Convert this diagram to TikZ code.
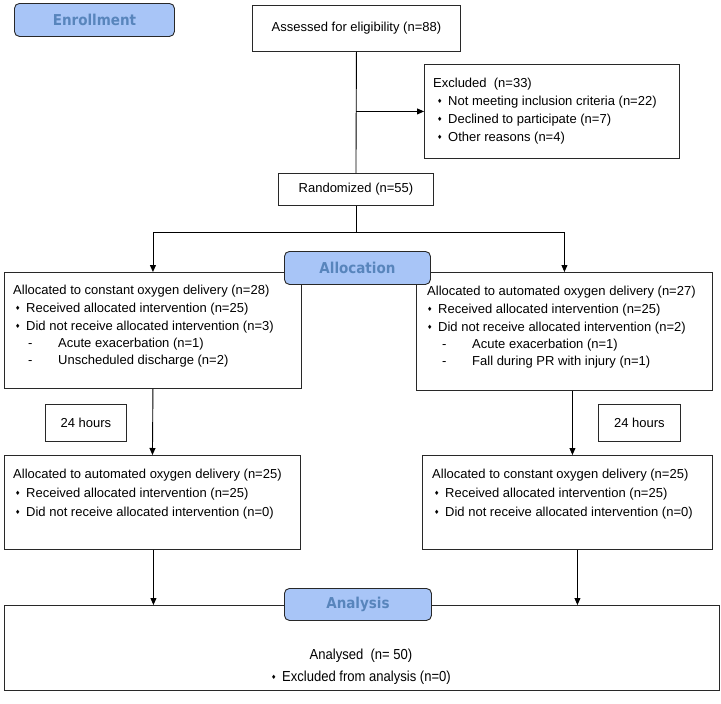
\documentclass[tikz,border=0pt]{standalone}
\usepackage{fontspec}
\setmainfont{Liberation Sans}
\newfontfamily\labfont{DejaVu Sans Condensed}
\newfontfamily\symfont{DejaVu Sans}
\newfontfamily\narrowfont[FakeStretch=0.9]{Liberation Sans}
\usetikzlibrary{arrows.meta}
\definecolor{labfill}{RGB}{168,197,247}
\definecolor{labtext}{RGB}{88,133,188}
\definecolor{edge}{RGB}{40,40,40}
\newcommand\bul{\makebox[11pt][l]{\raisebox{2pt}{\symfont\fontsize{6}{6}\selectfont ♦}}}
\newcommand\dashitem[1]{\hspace{15pt}\makebox[30pt][l]{-}#1}
\tikzset{
  bx/.style={draw=edge, line width=0.9pt, inner sep=0pt, anchor=north west, font=\fontsize{13}{16}\selectfont},
  txt/.style={inner sep=0pt, anchor=north west, align=left, font=\fontsize{13}{19}\selectfont},
  lab/.style={draw=edge, line width=0.9pt, fill=labfill, rounded corners=5pt, inner sep=0pt, anchor=north west,
    text=labtext, font=\labfont\bfseries\fontsize{15}{15}\selectfont},
  arr/.style={draw=black, line width=0.9pt, -{Triangle[length=7pt,width=6pt]}},
  ln/.style={draw=black, line width=0.9pt}
}
\begin{document}
\begin{tikzpicture}[x=1pt,y=-1pt]
\useasboundingbox (0,0) rectangle (721,704);
% boxes
\node[bx, minimum width=208, minimum height=46] (assess) at (252,5) {Assessed for eligibility (n=88)};
\node[bx, minimum width=255, minimum height=94] (excl) at (424,64) {};
\node[txt] (exclT) at (433,78) {Excluded\ \ (n=33)\\[-1pt]
\hspace{4pt}\bul Not meeting inclusion criteria (n=22)\\[-1pt]
\hspace{4pt}\bul Declined to participate (n=7)\\[-1pt]
\hspace{4pt}\bul Other reasons (n=4)};
\node[bx, minimum width=155, minimum height=32] (rand) at (278,173) {Randomized (n=55)};
\node[bx, minimum width=297, minimum height=116] (allocL) at (4,272) {};
\node[txt] (allocLT) at (13,285) {Allocated to constant oxygen delivery (n=28)\\[-1pt]
\hspace{2pt}\bul Received allocated intervention (n=25)\\[-1pt]
\hspace{2pt}\bul Did not receive allocated intervention (n=3)\\[-2pt]
\dashitem{Acute exacerbation (n=1)}\\[-2pt]
\dashitem{Unscheduled discharge (n=2)}};
\node[bx, minimum width=296, minimum height=118] (allocR) at (416,272) {};
\node[txt] (allocRT) at (427,286) {Allocated to automated oxygen delivery (n=27)\\[-1pt]
\bul Received allocated intervention (n=25)\\[-1pt]
\bul Did not receive allocated intervention (n=2)\\[-2pt]
\dashitem{Acute exacerbation (n=1)}\\[-2pt]
\dashitem{Fall during PR with injury (n=1)}};
\node[bx, minimum width=81, minimum height=37] (hL) at (45,404) {24 hours};
\node[bx, minimum width=82, minimum height=37] (hR) at (598,404) {24 hours};
\node[bx, minimum width=296, minimum height=94] (lowL) at (4,455) {};
\node[txt] (lowLT) at (13,469) {Allocated to automated oxygen delivery (n=25)\\[0pt]
\hspace{2pt}\bul Received allocated intervention (n=25)\\[0pt]
\hspace{2pt}\bul Did not receive allocated intervention (n=0)};
\node[bx, minimum width=290, minimum height=94] (lowR) at (422,455) {};
\node[txt] (lowRT) at (432,469) {Allocated to constant oxygen delivery (n=25)\\[0pt]
\hspace{2pt}\bul Received allocated intervention (n=25)\\[0pt]
\hspace{2pt}\bul Did not receive allocated intervention (n=0)};
\node[bx, minimum width=715, minimum height=85] (anal) at (4,605) {};
\node[inner sep=0pt, align=center, font=\narrowfont\fontsize{14.5}{22}\selectfont] (analT) at (361,667) {Analysed\ \ (n= 50)\\ \bul Excluded from analysis (n=0)};
% connectors
\coordinate (j1) at (assess.south |- excl.west);
\draw[ln] (assess.south) -- (rand.north);
\draw[arr] (j1) -- (excl.west);
\coordinate (split) at (rand.south |- 0,232);
\draw[ln] (rand.south) -- (split);
\draw[arr] (split) -| (allocL.north);
\draw[arr] (split) -| (allocR.north);
\draw[arr] (allocL.south) -- (lowL.north);
\coordinate (rA) at ([xshift=8]allocR.south);
\draw[arr] (rA) -- (rA |- lowR.north);
\coordinate (lB) at ([xshift=1]lowL.south);
\draw[arr] (lB) -- (lB |- anal.north);
\coordinate (rB) at ([xshift=10]lowR.south);
\draw[arr] (rB) -- (rB |- anal.north);
% stage labels
\node[lab, minimum width=160, minimum height=33] (enr) at (14,3) {Enrollment};
\node[lab, minimum width=146, minimum height=33] (alloc) at (284,251) {Allocation};
\node[lab, minimum width=147, minimum height=32] (analy) at (284,588) {Analysis};
\end{tikzpicture}
\end{document}
